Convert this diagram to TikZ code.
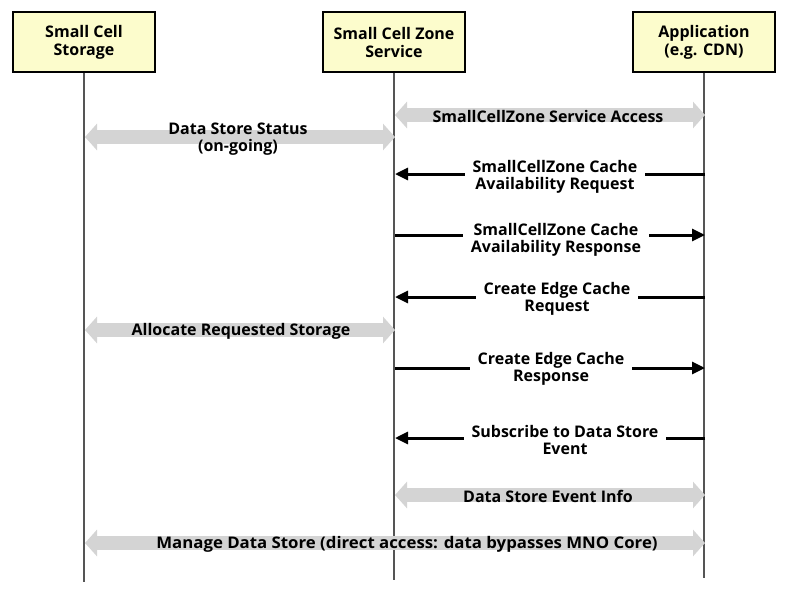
\documentclass[tikz,border=0pt]{standalone}
\usepackage{fontspec}
\setmainfont{Open Sans}
\usetikzlibrary{arrows.meta}
\definecolor{boxfill}{HTML}{FCFCCC}
\definecolor{band}{HTML}{D4D4D4}
\definecolor{life}{HTML}{555555}
\tikzset{
  x=1pt,y=-1pt,
  actor/.style={draw=black,line width=1.6pt,fill=boxfill,minimum width=142pt,minimum height=60pt,align=center,font=\bfseries\fontsize{16}{18}\selectfont,inner sep=0pt},
  lifeline/.style={draw=life,line width=1.6pt},
  gray2/.style={draw=band,line width=14pt,{Triangle[length=12pt,width=26pt]}-{Triangle[length=12pt,width=26pt]}},
  msg/.style={draw=black,line width=3pt,-{Triangle[length=13pt,width=12pt]}},
  lbl/.style={font=\bfseries\fontsize{16}{17.5}\selectfont,align=center,inner sep=0pt},
  mlbl/.style={lbl,fill=white,inner xsep=8pt,inner ysep=2pt},
}
\begin{document}
\begin{tikzpicture}
\useasboundingbox[fill=white] (0,0) rectangle (788,595);
% actors
\node[actor] (A) at (84,42) {Small Cell\\Storage};
\node[actor] (B) at (394,42) {Small Cell Zone\\Service};
\node[actor] (C) at (704,42) {Application\\(e.g. CDN)};
\coordinate (Aend) at (85,582);
\coordinate (Bend) at (395,580);
\coordinate (Cend) at (705,578);
\draw[lifeline] (A.south) -- (A.south |- Aend);
\draw[lifeline] (B.south) -- (B.south |- Bend);
\draw[lifeline] (C.south) -- (C.south |- Cend);
% row coordinates
\foreach \n/\y in {r1/115,r2/137,r3/174,r4/235,r5/297,r6/330,r7/368,r8/438,r9/495,r10/543}{
  \coordinate (A\n) at (85,\y);
  \coordinate (B\n) at (395,\y);
  \coordinate (C\n) at (705,\y);
}
% gray bands
\draw[gray2] (Br1) -- (Cr1);
\node[lbl] (t1) at (548,116) {SmallCellZone Service Access};
\draw[gray2] (Ar2) -- (Br2);
\node[lbl] (t2) at (238,139) {Data Store Status\\(on-going)};
\draw[gray2] (Ar6) -- (Br6);
\node[lbl] (t6) at (241,331) {Allocate Requested Storage};
\draw[gray2] (Br9) -- (Cr9);
\node[lbl] (t9) at (548,496) {Data Store Event Info};
\draw[gray2] (Ar10) -- (Cr10);
\node[lbl,xscale=1.05] (t10) at (407,544) {Manage Data Store (direct access: data bypasses MNO Core)};
% messages
\draw[msg] (Cr3) -- (Br3);
\node[mlbl] (t3) at (555,177) {SmallCellZone Cache\\Availability Request};
\draw[msg] (Br4) -- (Cr4);
\node[mlbl] (t4) at (556,240) {SmallCellZone Cache\\Availability Response};
\draw[msg] (Cr5) -- (Br5);
\node[mlbl] (t5) at (557,299) {Create Edge Cache\\Request};
\draw[msg] (Br7) -- (Cr7);
\node[mlbl] (t7) at (551,369) {Create Edge Cache\\Response};
\draw[msg] (Cr8) -- (Br8);
\node[mlbl] (t8) at (565,440) {Subscribe to Data Store\\Event};
\end{tikzpicture}
\end{document}
